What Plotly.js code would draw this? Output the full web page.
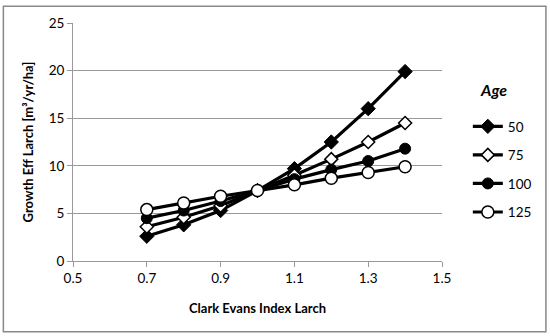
<!DOCTYPE html>
<html>
<head>
<meta charset="utf-8">
<script src="https://cdn.plot.ly/plotly-3.0.1.min.js"></script>
<style>html,body{margin:0;padding:0;background:#fff;}#chart{width:550px;height:336px;}</style>
</head>
<body>
<div id="chart"></div>
<script>
const xValues = [0.7, 0.8, 0.9, 1.0, 1.1, 1.2, 1.3, 1.4];
const age50 = [2.6, 3.8, 5.3, 7.4, 9.7, 12.5, 16.0, 19.9];
const age75 = [3.6, 4.6, 5.8, 7.4, 9.0, 10.7, 12.5, 14.5];
const age100 = [4.5, 5.3, 6.3, 7.4, 8.6, 9.6, 10.5, 11.8];
const age125 = [5.4, 6.1, 6.8, 7.4, 8.0, 8.7, 9.3, 9.9];
const seriesNames = ["50", "75", "100", "125"];
const xTicks = [0.5, 0.7, 0.9, 1.1, 1.3, 1.5];
const yTicks = [0, 5, 10, 15, 20, 25];

const FONT = "Lato, 'Open Sans', sans-serif";
const markers = [
  {symbol: "diamond", size: 11, color: "#000", line: {color: "#000", width: 1}},
  {symbol: "diamond", size: 10, color: "#fff", line: {color: "#000", width: 1.5}},
  {symbol: "circle", size: 11, color: "#000", line: {color: "#000", width: 1}},
  {symbol: "circle", size: 12, color: "#fff", line: {color: "#000", width: 1.5}}
];
const allY = [age50, age75, age100, age125];
const traces = allY.map((ys, i) => ({
  x: xValues, y: ys, name: seriesNames[i], type: "scatter", mode: "lines+markers",
  legendgroup: "g" + i,
  line: {color: "#000", width: 3.2},
  marker: markers[i]
}));

const layout = {
  width: 550, height: 336,
  margin: {l: 72.7, r: 108, t: 22.7, b: 74.8},
  paper_bgcolor: "#fff", plot_bgcolor: "#fff",
  font: {family: FONT, size: 13, color: "#000"},
  showlegend: true,
  legend: {x: 1.07, xanchor: "left", y: 0.63, yanchor: "top", tracegroupgap: 8,
    font: {family: FONT, size: 13.5, color: "#000"}, bgcolor: "rgba(0,0,0,0)"},
  xaxis: {
    range: [0.5, 1.5], tickvals: xTicks, ticktext: xTicks.map(v => v.toFixed(1)),
    showgrid: false, zeroline: false, showline: true, linecolor: "#999", linewidth: 1,
    ticks: "outside", ticklen: 5, tickcolor: "#999",
    tickfont: {family: FONT, size: 13.5, color: "#000"},
    title: {text: "<b>Clark Evans Index Larch</b>", font: {family: FONT, size: 13, color: "#000"}, standoff: 18}
  },
  yaxis: {
    range: [0, 25], tickvals: yTicks,
    showgrid: true, gridcolor: "#999", gridwidth: 1, zeroline: false,
    showline: true, linecolor: "#999", linewidth: 1,
    ticks: "outside", ticklen: 5, tickcolor: "#999",
    tickfont: {family: FONT, size: 13.5, color: "#000"},
    title: {text: "<b>Growth Eff Larch [m³/yr/ha]</b>", font: {family: FONT, size: 13, color: "#000"}, standoff: 12}
  },
  annotations: [
    {xref: "paper", yref: "paper", x: 1.182, y: 0.768, text: "<b><i>Age</i></b>", showarrow: false,
     font: {family: FONT, size: 16, color: "#000"}}
  ],
  shapes: [
    {type: "rect", xref: "paper", yref: "paper", x0: -0.1887, x1: 1.2816, y0: -0.297, y1: 1.070,
     line: {color: "#888", width: 1.5}, fillcolor: "rgba(0,0,0,0)", layer: "below"}
  ]
};
Plotly.newPlot("chart", traces, layout, {displayModeBar: false, staticPlot: true});
</script>
</body>
</html>
